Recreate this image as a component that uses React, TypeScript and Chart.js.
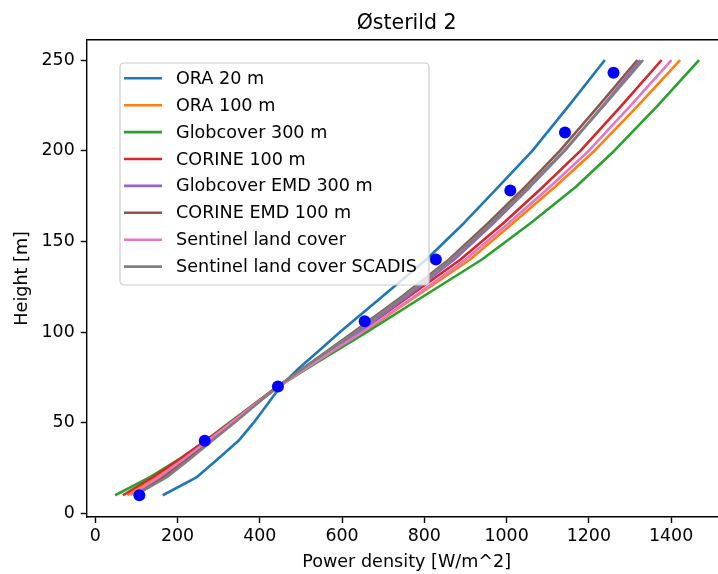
import React, { useEffect, useRef } from "react";
import { Chart, registerables } from "chart.js";

Chart.register(...registerables);

// Heights [m] at which each model profile is given
const heights = [10, 20, 30, 40, 50, 60, 70, 80, 90, 100, 120, 140, 160, 180, 200, 225, 250];

// Power density [W/m^2] per series at the heights above
const ora20 = [164, 247, 298, 348, 385, 418, 450, 495, 545, 595, 700, 805, 896, 980, 1063, 1152, 1239];
const ora100 = [78, 150, 212, 272, 330, 388, 447, 515, 583, 652, 782, 911, 1015, 1117, 1214, 1320, 1422];
const globcover300 = [48, 133, 205, 268, 325, 385, 443, 515, 588, 660, 800, 940, 1058, 1168, 1262, 1368, 1468];
const corine100 = [67, 140, 205, 268, 328, 385, 443, 508, 575, 642, 765, 888, 992, 1088, 1180, 1280, 1377];
const globcoverEmd300 = [100, 165, 222, 278, 333, 388, 445, 510, 575, 640, 760, 873, 968, 1057, 1142, 1235, 1325];
const corineEmd100 = [95, 162, 220, 276, 332, 388, 444, 505, 567, 628, 748, 860, 955, 1045, 1130, 1225, 1318];
const sentinel = [85, 155, 215, 273, 330, 387, 445, 512, 580, 650, 778, 900, 1005, 1105, 1200, 1302, 1401];
const sentinelScadis = [97, 174, 230, 284, 338, 391, 444, 506, 569, 632, 752, 864, 962, 1053, 1140, 1237, 1332];

const seriesLabels = [
  "ORA 20 m",
  "ORA 100 m",
  "Globcover 300 m",
  "CORINE 100 m",
  "Globcover EMD 300 m",
  "CORINE EMD 100 m",
  "Sentinel land cover",
  "Sentinel land cover SCADIS",
];
const seriesColors = ["#1f77b4", "#ff7f0e", "#2ca02c", "#d62728", "#9467bd", "#8c564b", "#e377c2", "#7f7f7f"];

// Measurements (blue dots)
const measHeights = [10, 40, 70, 106, 140, 178, 210, 243];
const measPower = [107, 266, 444, 655, 828, 1009, 1142, 1260];

const xTicks = [0, 200, 400, 600, 800, 1000, 1200, 1400];
const yTicks = [0, 50, 100, 150, 200, 250];

const titleText = "Østerild 2";
const xLabel = "Power density [W/m^2]";
const yLabel = "Height [m]";

const FONT = "'DejaVu Sans', 'Liberation Sans', sans-serif";
const CANVAS_W = 760;
const CANVAS_H = 574;

export default function App() {
  const ref = useRef<HTMLCanvasElement>(null);

  useEffect(() => {
    const canvas = ref.current;
    if (!canvas) return;
    const series = [ora20, ora100, globcover300, corine100, globcoverEmd300, corineEmd100, sentinel, sentinelScadis];
    const datasets: any[] = series.map((s, i) => ({
      label: seriesLabels[i],
      data: heights.map((h, j) => ({ x: s[j], y: h })),
      showLine: true,
      borderColor: seriesColors[i],
      backgroundColor: seriesColors[i],
      borderWidth: 2.6,
      borderJoinStyle: "round",
      pointRadius: 0,
      tension: 0,
      fill: false,
      order: 10 - i,
    }));
    datasets.push({
      label: "Measurements",
      data: measPower.map((x, i) => ({ x, y: measHeights[i] })),
      showLine: false,
      pointRadius: 6,
      pointStyle: "circle",
      backgroundColor: "#0000ff",
      borderColor: "#0000ff",
      borderWidth: 0,
      order: 0,
    });

    const mplPlugin = {
      id: "mplDecor",
      afterDatasetsDraw(chart: any) {
        const ctx = chart.ctx as CanvasRenderingContext2D;
        const lx = 120, ly = 63, lw = 309, lh = 222;
        ctx.save();
        ctx.beginPath();
        if ((ctx as any).roundRect) (ctx as any).roundRect(lx, ly, lw, lh, 4);
        else ctx.rect(lx, ly, lw, lh);
        ctx.fillStyle = "rgba(255,255,255,0.8)";
        ctx.fill();
        ctx.strokeStyle = "#cccccc";
        ctx.lineWidth = 1.2;
        ctx.stroke();
        ctx.font = `17.6px ${FONT}`;
        ctx.textBaseline = "middle";
        ctx.textAlign = "left";
        for (let i = 0; i < seriesLabels.length; i++) {
          const y = 78.3 + i * 26.9;
          ctx.strokeStyle = seriesColors[i];
          ctx.lineWidth = 2.6;
          ctx.beginPath();
          ctx.moveTo(124, y);
          ctx.lineTo(162, y);
          ctx.stroke();
          ctx.fillStyle = "#000";
          ctx.fillText(seriesLabels[i], 176, y + 1);
        }
        ctx.restore();
      },
      afterDraw(chart: any) {
        const ctx = chart.ctx as CanvasRenderingContext2D;
        const a = chart.chartArea;
        ctx.save();
        ctx.strokeStyle = "#000";
        ctx.lineWidth = 1.4;
        ctx.beginPath();
        ctx.moveTo(a.left, a.top);
        ctx.lineTo(a.right + 1, a.top);
        ctx.stroke();
        ctx.fillStyle = "#000";
        const cx = (a.left + a.right) / 2;
        ctx.font = `20.5px ${FONT}`;
        ctx.textAlign = "center";
        ctx.textBaseline = "alphabetic";
        ctx.fillText(titleText, cx, 29);
        ctx.font = `17.6px ${FONT}`;
        ctx.textBaseline = "middle";
        ctx.fillText(xLabel, cx, 562);
        ctx.translate(22, (a.top + a.bottom) / 2);
        ctx.rotate(-Math.PI / 2);
        ctx.fillText(yLabel, 0, 0);
        ctx.restore();
      },
    };

    const tickFont = { family: FONT, size: 17.4 };
    const chart = new Chart(canvas, {
      type: "scatter",
      data: { datasets },
      options: {
        animation: false,
        responsive: false,
        devicePixelRatio: 1,
        events: [],
        layout: { padding: { left: 0, top: 39.7, right: CANVAS_W - 726.6, bottom: 0 } },
        plugins: { legend: { display: false }, tooltip: { enabled: false }, title: { display: false } },
        scales: {
          x: {
            type: "linear",
            min: -21,
            max: 1535,
            afterBuildTicks: (s: any) => {
              s.ticks = xTicks.map((v) => ({ value: v }));
            },
            afterFit: (s: any) => {
              s.height = CANVAS_H - 517;
            },
            grid: {
              drawOnChartArea: false,
              drawTicks: true,
              tickLength: 6,
              tickWidth: 1.4,
              tickColor: "#000",
              color: "#000",
            },
            border: { display: true, color: "#000", width: 1.4 },
            ticks: {
              color: "#000",
              font: tickFont,
              padding: 3,
              maxRotation: 0,
              autoSkip: false,
              callback: (v: any) => String(v),
            },
          },
          y: {
            type: "linear",
            min: -2,
            max: 261.2,
            afterBuildTicks: (s: any) => {
              s.ticks = yTicks.map((v) => ({ value: v }));
            },
            afterFit: (s: any) => {
              s.width = 86.7;
            },
            grid: {
              drawOnChartArea: false,
              drawTicks: true,
              tickLength: 6,
              tickWidth: 1.4,
              tickColor: "#000",
              color: "#000",
            },
            border: { display: true, color: "#000", width: 1.4 },
            ticks: { color: "#000", font: tickFont, padding: 6, autoSkip: false, callback: (v: any) => String(v) },
          },
        },
      },
      plugins: [mplPlugin],
    } as any);
    return () => chart.destroy();
  }, []);

  return (
    <div
      style={{
        position: "fixed",
        left: 0,
        top: 0,
        width: 718,
        height: 574,
        overflow: "hidden",
        background: "#fff",
      }}
    >
      <canvas ref={ref} width={CANVAS_W} height={CANVAS_H} style={{ display: "block", width: CANVAS_W, height: CANVAS_H }} />
    </div>
  );
}
